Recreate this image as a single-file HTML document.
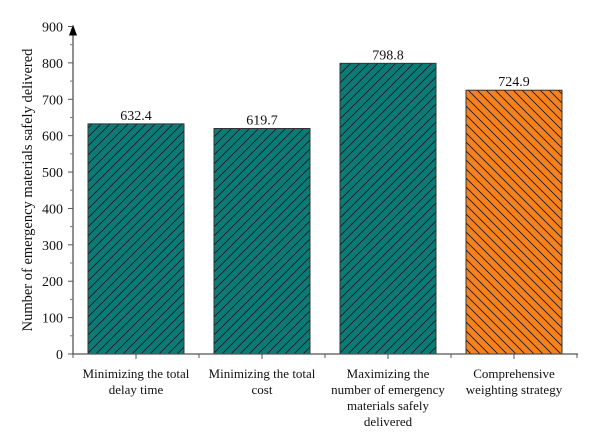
<!DOCTYPE html>
<html><head><meta charset="utf-8">
<style>
html,body{margin:0;padding:0;background:#fff;}
svg{display:block;font-family:"Liberation Serif",serif;}
</style></head>
<body>
<svg id="chart" width="600" height="444" viewBox="0 0 600 444">
<defs>
<pattern id="hatchF" patternUnits="userSpaceOnUse" width="9" height="9">
<path d="M-1,10 L10,-1 M-2,2 L2,-2 M7,11 L11,7" stroke="#1a1a1a" stroke-width="0.9"/>
</pattern>
<pattern id="hatchB" patternUnits="userSpaceOnUse" width="9" height="9">
<path d="M-1,-1 L10,10 M-2,7 L2,11 M7,-2 L11,2" stroke="#1a1a1a" stroke-width="0.9"/>
</pattern>
</defs>
<g id="plot"></g>
</svg>
<script>
const categories = [["Minimizing the total","delay time"],["Minimizing the total","cost"],["Maximizing the","number of emergency","materials safely","delivered"],["Comprehensive","weighting strategy"]];
const values = [632.4, 619.7, 798.8, 724.9];
const valueLabels = ["632.4","619.7","798.8","724.9"];
const yTicks = [0,100,200,300,400,500,600,700,800,900];
const highlight = [false,false,false,true];

const NS="http://www.w3.org/2000/svg";
const g=document.getElementById('plot');
const x0=73, x1=578, y0=354, yTop=26.5, yMax=900;
const catW=(x1-x0-1)/categories.length;
function yScale(v){return y0-(v/yMax)*(y0-yTop);}
function xCenter(i){return x0+catW*(i+0.5);}
function mk(tag,attrs){const e=document.createElementNS(NS,tag);for(const k in attrs)e.setAttribute(k,attrs[k]);g.appendChild(e);return e;}

// bars
values.forEach((v,i)=>{
  const bw=96, cx=xCenter(i), y=yScale(v);
  const fill=highlight[i]?'#f5821f':'#0b7b78';
  const r=mk('rect',{x:cx-bw/2,y:y,width:bw,height:y0-y,fill:fill});
  
  
  const h=mk('rect',{x:cx-bw/2,y:y,width:bw,height:y0-y,fill:highlight[i]?'url(#hatchB)':'url(#hatchF)',stroke:'#333','stroke-width':1});
  
  
  const t=mk('text',{x:cx,y:y-4,'text-anchor':'middle','font-size':14,fill:'#111'});
  t.textContent=valueLabels[i];
  
  
  const lab=mk('text',{x:cx,y:378,'text-anchor':'middle','font-size':13,fill:'#111'});
  
  
  categories[i].forEach((line,j)=>{
    const ts=document.createElementNS(NS,'tspan');
    ts.setAttribute('x',cx);ts.setAttribute('dy',j===0?0:16);ts.textContent=line;lab.appendChild(ts);
  });
  const tk=mk('line',{x1:cx,x2:cx,y1:y0,y2:y0+5,stroke:'#555','stroke-width':1});
  
  
});
// category separators ticks
for(let i=0;i<=categories.length;i++){
  const x=x0+catW*i;
  const s=mk('line',{x1:x,x2:x,y1:y0,y2:y0+4,stroke:'#555','stroke-width':1});
  
  
}
// axes
const xa=mk('line',{x1:x0,x2:x1,y1:y0,y2:y0,stroke:'#555','stroke-width':1.3});


const ya=mk('line',{x1:x0,x2:x0,y1:y0,y2:yTop+4,stroke:'#555','stroke-width':1.3});


const ar=mk('path',{d:`M${x0-4},${yTop+9} L${x0+4},${yTop+9} L${x0},${yTop-2} Z`,fill:'#000'});


yTicks.forEach((v,i)=>{
  const y=yScale(v);
  const l=mk('line',{x1:x0-5,x2:x0,y1:y,y2:y,stroke:'#555','stroke-width':1});
  
  
  if(i<yTicks.length-1){
    const m=mk('line',{x1:x0-3,x2:x0,y1:yScale(v+50),y2:yScale(v+50),stroke:'#777','stroke-width':1});
    
    
  }
  const t=mk('text',{x:x0-10,y:y+5,'text-anchor':'end','font-size':14,fill:'#111'});
  t.textContent=v;
  
  
});
const yt=mk('text',{x:0,y:0,transform:'translate(32,190) rotate(-90)','text-anchor':'middle','font-size':14.5,fill:'#111'});
yt.textContent='Number of emergency materials safely delivered';


</script>
</body></html>
